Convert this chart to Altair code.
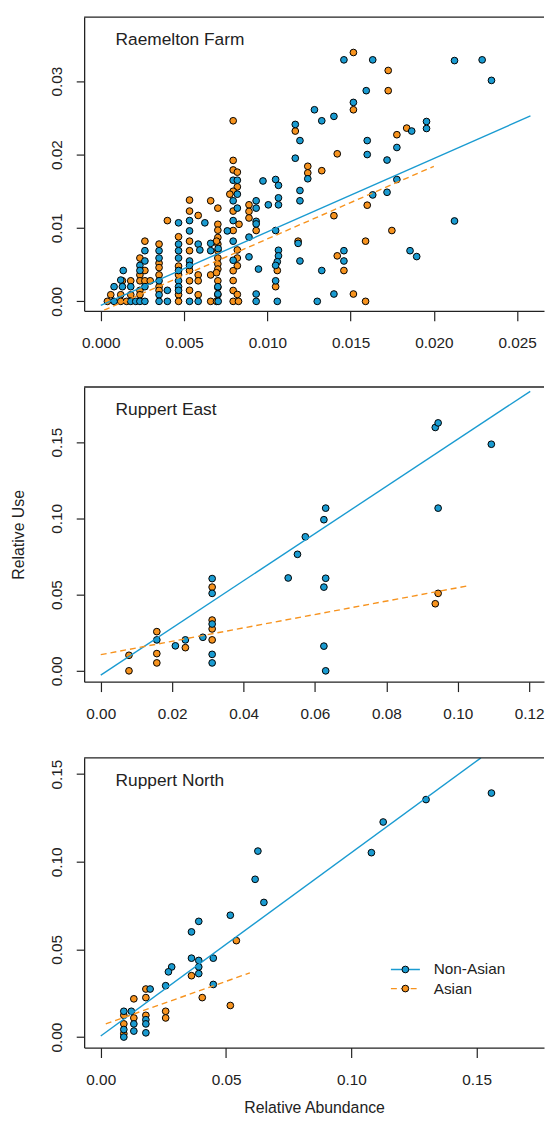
import altair as alt
import pandas as pd

FONT = "Liberation Sans"
BLUE = "#1A9BD1"
ORANGE = "#F7931E"
INK = "#222222"

panel_names = ["Raemelton Farm", "Ruppert East", "Ruppert North"]
group_names = ["Non-Asian", "Asian"]

# ---------------- Raemelton Farm ----------------
raem_nonasian = [
    (0.00080, 0.00200), (0.00080, 0.00000), (0.00120, 0.00290), (0.00135, 0.00420), (0.00130, 0.00200),
    (0.00180, 0.00200), (0.00180, 0.00000), (0.00210, 0.00000), (0.00235, 0.00490), (0.00235, 0.00420),
    (0.00235, 0.00000), (0.00265, 0.00690), (0.00265, 0.00550), (0.00265, 0.00200), (0.00265, 0.00000),
    (0.00350, 0.00690), (0.00350, 0.00590), (0.00350, 0.00280), (0.00350, 0.00090), (0.00350, 0.00000),
    (0.00400, 0.00150), (0.00400, 0.00000), (0.00467, 0.01070), (0.00467, 0.00780), (0.00467, 0.00690),
    (0.00467, 0.00590), (0.00467, 0.00420), (0.00467, 0.00280), (0.00467, 0.00200), (0.00467, 0.00150),
    (0.00533, 0.01100), (0.00533, 0.00960), (0.00533, 0.00550), (0.00533, 0.00490), (0.00533, 0.00000),
    (0.00585, 0.00780), (0.00595, 0.00700), (0.00585, 0.00000), (0.00625, 0.01070), (0.00660, 0.00790),
    (0.00660, 0.00690), (0.00705, 0.00720), (0.00703, 0.00200), (0.00703, 0.00100), (0.00705, 0.00000),
    (0.00760, 0.00960), (0.00795, 0.01650), (0.00820, 0.01650), (0.00820, 0.01460), (0.00795, 0.01370),
    (0.00820, 0.01270), (0.00795, 0.01100), (0.00795, 0.00820), (0.00795, 0.00560), (0.00890, 0.00875),
    (0.00890, 0.00606), (0.00933, 0.01370), (0.00933, 0.01270), (0.00933, 0.01090), (0.00933, 0.01055),
    (0.00947, 0.00440), (0.00933, 0.00100), (0.00933, 0.00000), (0.00974, 0.01640), (0.01006, 0.01315),
    (0.01050, 0.01660), (0.01067, 0.01580), (0.01067, 0.01410), (0.01067, 0.01315), (0.01050, 0.00965),
    (0.01067, 0.00696), (0.01067, 0.00620), (0.01060, 0.00540), (0.01050, 0.00490), (0.01050, 0.00280),
    (0.01060, 0.00000), (0.01168, 0.02410), (0.01196, 0.02190), (0.01168, 0.01950), (0.01196, 0.01510),
    (0.01196, 0.01370), (0.01185, 0.00790), (0.01196, 0.00550), (0.01243, 0.01670), (0.01283, 0.02610),
    (0.01300, 0.00000), (0.01327, 0.02460), (0.01327, 0.00420), (0.01400, 0.02520), (0.01400, 0.00100),
    (0.01460, 0.03290), (0.01460, 0.00690), (0.01460, 0.00550), (0.01517, 0.02710), (0.01594, 0.02870),
    (0.01600, 0.02190), (0.01600, 0.02000), (0.01633, 0.01450), (0.01633, 0.03290), (0.01719, 0.01925),
    (0.01719, 0.01486), (0.01778, 0.02096), (0.01778, 0.01660), (0.01867, 0.02320), (0.01857, 0.00690),
    (0.01897, 0.00610), (0.01956, 0.02450), (0.01956, 0.02355), (0.02124, 0.03280), (0.02124, 0.01095),
    (0.02290, 0.03290), (0.02346, 0.03010),
]
raem_asian = [
    (0.00040, 0.00000), (0.00060, 0.00090), (0.00120, 0.00090), (0.00130, 0.00280), (0.00120, 0.00000),
    (0.00180, 0.00280), (0.00180, 0.00090), (0.00155, 0.00000), (0.00235, 0.00590), (0.00235, 0.00360),
    (0.00235, 0.00280), (0.00235, 0.00150), (0.00235, 0.00090), (0.00265, 0.00820), (0.00265, 0.00420),
    (0.00265, 0.00280), (0.00297, 0.00280), (0.00350, 0.00780), (0.00350, 0.00520), (0.00350, 0.00460),
    (0.00350, 0.00360), (0.00350, 0.00200), (0.00350, 0.00150), (0.00400, 0.01100), (0.00467, 0.00880),
    (0.00467, 0.00480), (0.00467, 0.00360), (0.00467, 0.00090), (0.00467, 0.00000), (0.00533, 0.01380),
    (0.00533, 0.01230), (0.00533, 0.00820), (0.00533, 0.00690), (0.00533, 0.00420), (0.00533, 0.00280),
    (0.00533, 0.00150), (0.00585, 0.01170), (0.00585, 0.00360), (0.00585, 0.00280), (0.00585, 0.00090),
    (0.00660, 0.01370), (0.00660, 0.00360), (0.00660, 0.00000), (0.00703, 0.01270), (0.00703, 0.01050),
    (0.00703, 0.00970), (0.00703, 0.00870), (0.00703, 0.00780), (0.00695, 0.00820), (0.00703, 0.00690),
    (0.00703, 0.00590), (0.00703, 0.00510), (0.00703, 0.00440), (0.00695, 0.00390), (0.00703, 0.00280),
    (0.00703, 0.00190), (0.00703, 0.00090), (0.00695, 0.00000), (0.00795, 0.02460), (0.00795, 0.01920),
    (0.00795, 0.01790), (0.00820, 0.01760), (0.00820, 0.01560), (0.00795, 0.01500), (0.00775, 0.01460),
    (0.00795, 0.01230), (0.00830, 0.01050), (0.00795, 0.00965), (0.00820, 0.00700), (0.00820, 0.00590),
    (0.00820, 0.00485), (0.00795, 0.00417), (0.00795, 0.00283), (0.00795, 0.00148), (0.00820, 0.00094),
    (0.00795, 0.00000), (0.00827, 0.00000), (0.00890, 0.01315), (0.00890, 0.01225), (0.00890, 0.01136),
    (0.00933, 0.00965), (0.01060, 0.00420), (0.01050, 0.00200), (0.01185, 0.00820), (0.01168, 0.02320),
    (0.01243, 0.01840), (0.01243, 0.01750), (0.01327, 0.01780), (0.01400, 0.01167), (0.01420, 0.02010),
    (0.01420, 0.00620), (0.01460, 0.00420), (0.01517, 0.03390), (0.01517, 0.02610), (0.01517, 0.00100),
    (0.01590, 0.00820), (0.01600, 0.01310), (0.01590, 0.00000), (0.01726, 0.03145), (0.01726, 0.02870),
    (0.01748, 0.00965), (0.01778, 0.02270), (0.01837, 0.02360),
]
raem_fit_nonasian = [(0.0000, -0.00054), (0.0258, 0.02526)]
raem_fit_asian = [(0.0002, -0.0012), (0.0200, 0.0184)]

# ---------------- Ruppert East ----------------
east_nonasian = [
    (0.0157, 0.0203), (0.0209, 0.0164), (0.0237, 0.0203), (0.0286, 0.0220), (0.0312, 0.0605),
    (0.0312, 0.0508), (0.0312, 0.0307), (0.0312, 0.0108), (0.0312, 0.0052), (0.0525, 0.0609),
    (0.0551, 0.0764), (0.0573, 0.0879), (0.0630, 0.1067), (0.0625, 0.0991), (0.0630, 0.0607),
    (0.0625, 0.0549), (0.0625, 0.0162), (0.0630, 0.0000), (0.0937, 0.1596), (0.0945, 0.1626),
    (0.0945, 0.1067), (0.1094, 0.1486),
]
east_asian = [
    (0.0079, 0.0102), (0.0079, 0.0000), (0.0157, 0.0257), (0.0157, 0.0113), (0.0157, 0.0052),
    (0.0237, 0.0152), (0.0312, 0.0549), (0.0312, 0.0333), (0.0312, 0.0275), (0.0312, 0.0203),
    (0.0945, 0.0508), (0.0937, 0.0440),
]
east_fit_nonasian = [(0.0000, -0.0028), (0.1203, 0.1833)]
east_fit_asian = [(0.0000, 0.0106), (0.1034, 0.0560)]

# ---------------- Ruppert North ----------------
north_nonasian = [
    (0.0627, 0.1061), (0.0616, 0.0900), (0.0651, 0.0768), (0.0517, 0.0695), (0.0391, 0.0660),
    (0.0362, 0.0600), (0.0362, 0.0450), (0.0391, 0.0437), (0.0391, 0.0400), (0.0391, 0.0362),
    (0.0449, 0.0450), (0.0449, 0.0300), (0.0283, 0.0400), (0.0270, 0.0372), (0.0259, 0.0293),
    (0.0197, 0.0274), (0.0180, 0.0099), (0.0180, 0.0075), (0.0180, 0.0024), (0.0122, 0.0147),
    (0.0132, 0.0075), (0.0132, 0.0034), (0.0092, 0.0147), (0.0092, 0.0043), (0.0092, 0.0000),
    (0.1559, 0.1392), (0.1298, 0.1355), (0.1127, 0.1227), (0.1080, 0.1052),
]
north_asian = [
    (0.0541, 0.0550), (0.0362, 0.0350), (0.0405, 0.0225), (0.0517, 0.0180), (0.0259, 0.0147),
    (0.0259, 0.0109), (0.0180, 0.0274), (0.0180, 0.0225), (0.0180, 0.0124), (0.0132, 0.0218),
    (0.0132, 0.0109), (0.0092, 0.0124), (0.0092, 0.0075), (0.0092, 0.0019),
]
north_fit_nonasian = [(0.0000, 0.0006), (0.1517, 0.1593)]
north_fit_asian = [(0.0020, 0.0075), (0.0595, 0.0366)]

# axis ticks
raem_xticks = [0.000, 0.005, 0.010, 0.015, 0.020, 0.025]
raem_yticks = [0.00, 0.01, 0.02, 0.03]
east_xticks = [0.00, 0.02, 0.04, 0.06, 0.08, 0.10, 0.12]
east_yticks = [0.00, 0.05, 0.10, 0.15]
north_xticks = [0.00, 0.05, 0.10, 0.15]
north_yticks = [0.00, 0.05, 0.10, 0.15]

W = 465


def points_df(non, asi):
    rows = [{"x": x, "y": y, "group": group_names[1]} for x, y in asi]
    rows += [{"x": x, "y": y, "group": group_names[0]} for x, y in non]
    return pd.DataFrame(rows)


def make_panel(name, non, asi, fit_non, fit_asi, xdom, ydom, xticks, yticks,
               xfmt, height, ytitle=None, xtitle=None, legend=False):
    xs = alt.Scale(domain=xdom, nice=False, zero=False)
    ys = alt.Scale(domain=ydom, nice=False, zero=False)
    xax = alt.Axis(values=xticks, format=xfmt, title=xtitle, labelFlush=False,
                   titlePadding=12)
    yax = alt.Axis(values=yticks, format=".2f", title=ytitle, titlePadding=24)
    X = alt.X("x:Q", scale=xs, axis=xax)
    Y = alt.Y("y:Q", scale=ys, axis=yax)

    pts = alt.Chart(points_df(non, asi)).mark_point(
        filled=True, shape="circle", size=46, stroke="black", strokeWidth=1,
        opacity=1, clip=True
    ).encode(
        x=X, y=Y,
        fill=alt.Fill("group:N", scale=alt.Scale(domain=group_names, range=[BLUE, ORANGE]),
                      legend=None),
    )
    ln = alt.Chart(pd.DataFrame(fit_non, columns=["x", "y"])).mark_line(
        color=BLUE, strokeWidth=1.4, clip=True).encode(x=X, y=Y)
    la = alt.Chart(pd.DataFrame(fit_asi, columns=["x", "y"])).mark_line(
        color=ORANGE, strokeWidth=1.4, strokeDash=[6, 4], clip=True).encode(x=X, y=Y)
    lab = alt.Chart(pd.DataFrame({"label": [name]})).mark_text(
        align="left", baseline="alphabetic", font=FONT, fontSize=17.5, color=INK
    ).encode(text="label:N", x=alt.value(31.8), y=alt.value(28))
    # top edge of the plot frame (left and bottom edges are the axis domains)
    top = alt.Chart(pd.DataFrame({"edge": ["top"]})).mark_rule(
        color=INK, strokeWidth=1.3).encode(x=alt.value(0), x2=alt.value(W), y=alt.value(0))
    layers = [pts, ln, la, lab, top]

    if legend:
        rows_y = [214.0, 233.3]
        cols = [BLUE, ORANGE]
        dashes = [[1, 0], [6, 4]]
        for i, g in enumerate(group_names):
            d = pd.DataFrame({"label": [g]})
            layers.append(alt.Chart(d).mark_rule(color=cols[i], strokeWidth=1.4,
                                                 strokeDash=dashes[i]).encode(
                x=alt.value(310.2), x2=alt.value(339.5), y=alt.value(rows_y[i])))
            layers.append(alt.Chart(d).mark_point(
                filled=True, shape="circle", size=46, stroke="black", strokeWidth=1,
                fill=cols[i], opacity=1).encode(
                x=alt.value(324.8), y=alt.value(rows_y[i])))
            layers.append(alt.Chart(d).mark_text(
                align="left", baseline="middle", font=FONT, fontSize=15.5, color=INK
            ).encode(text="label:N", x=alt.value(353.5), y=alt.value(rows_y[i])))

    return alt.layer(*layers).properties(width=W, height=height)


p1 = make_panel(panel_names[0], raem_nonasian, raem_asian, raem_fit_nonasian, raem_fit_asian,
                [-0.000998, 0.026615], [-0.001292, 0.03872], raem_xticks, raem_yticks,
                ".3f", 297)
p2 = make_panel(panel_names[1], east_nonasian, east_asian, east_fit_nonasian, east_fit_asian,
                [-0.004654, 0.124155], [-0.007124, 0.18614], east_xticks, east_yticks,
                ".2f", 298, ytitle="Relative Use")
p3 = make_panel(panel_names[2], north_nonasian, north_asian, north_fit_nonasian, north_fit_asian,
                [-0.00663, 0.176875], [-0.00603, 0.1593], north_xticks, north_yticks,
                ".2f", 293, xtitle="Relative Abundance", legend=True)

chart = alt.vconcat(p1, p2, p3, spacing=35).properties(
    padding={"left": 2, "top": 2, "right": 0, "bottom": 0}
).configure_view(
    strokeWidth=0
).configure_axis(
    domain=True, domainColor=INK, domainWidth=1.3, grid=False,
    tickColor=INK, tickWidth=1.2,
    labelFont=FONT, labelFontSize=15.5, labelColor=INK,
    titleFont=FONT, titleFontSize=16, titleFontWeight="normal", titleColor=INK,
).configure_axisX(
    tickSize=10, labelPadding=15
).configure_axisY(
    tickSize=8, labelPadding=11.5, labelAngle=270, labelAlign="center", labelBaseline="bottom"
)

chart.save("out.html", embed_options={"renderer": "svg", "actions": False})
